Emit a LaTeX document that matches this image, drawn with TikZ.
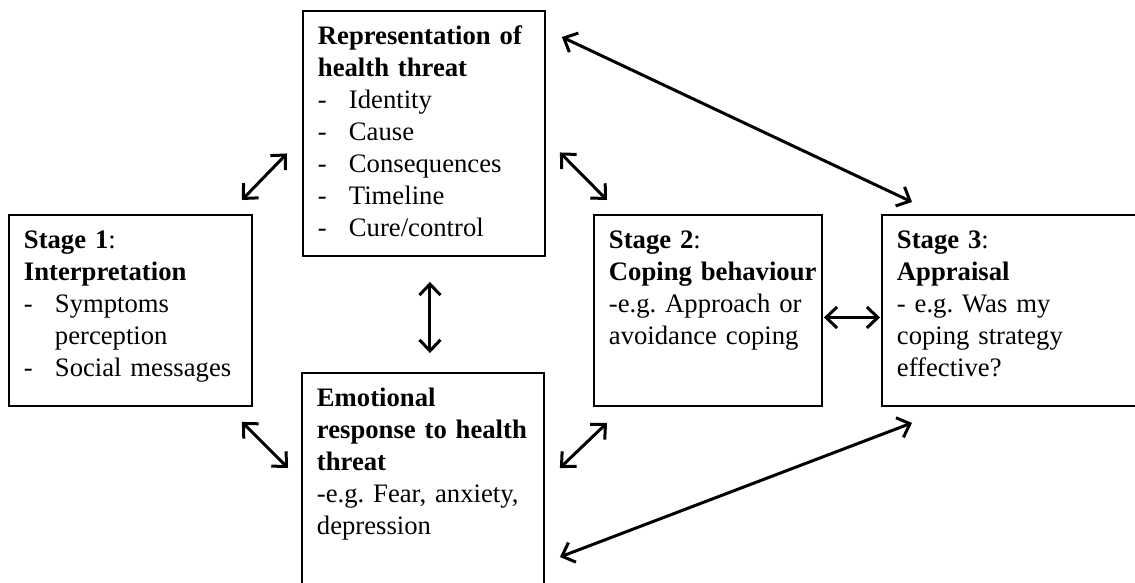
\documentclass[tikz,border=0pt]{standalone}
\usepackage{fontspec}
\setmainfont{Liberation Serif}
\usetikzlibrary{arrows.meta}

\newcommand{\dashitem}[1]{\makebox[31pt][l]{-}#1}
\newcommand{\boxfont}{\fontsize{26.67}{32}\selectfont\frenchspacing\hyphenpenalty=10000\relax}

\begin{document}
\begin{tikzpicture}[x=1pt,y=-1pt,
  box/.style={draw,line width=1.9pt,anchor=north west,align=left,
    inner xsep=15pt,inner ysep=0pt,text height=34pt,font=\boxfont},
  link/.style={line width=3pt,>={Straight Barb[length=11pt,width=21pt]},<->}]
  \useasboundingbox (0,0) rectangle (1135,582);
  % boxes
  \node[box,text width=212pt,text depth=211pt] (rep) at (302,10)
    {\textbf{Representation of}\\ \textbf{health threat}\\
     \dashitem{Identity}\\ \dashitem{Cause}\\ \dashitem{Consequences}\\
     \dashitem{Timeline}\\ \dashitem{Cure/control}};
  \node[box,text width=213pt,text depth=157pt] (s1) at (8,214)
    {\textbf{Stage 1}:\\ \textbf{Interpretation}\\
     \dashitem{Symptoms}\\ \hspace*{31pt}perception\\
     \mbox{\dashitem{Social messages}}};
  \node[box,text width=198pt,text depth=157pt] (s2) at (593,214)
    {\textbf{Stage 2}:\\ \mbox{\textbf{Coping behaviour}}\\
     \mbox{-e.g. Approach or}\\ avoidance coping};
  \node[box,text width=229pt,text depth=157pt] (s3) at (881,214)
    {\textbf{Stage 3}:\\ \textbf{Appraisal}\\
     - e.g. Was my\\ coping strategy\\ effective?};
  \node[box,text width=212pt,text depth=181pt] (emo) at (301,372)
    {\textbf{Emotional}\\ \mbox{\textbf{response to health}}\\ \textbf{threat}\\
     \mbox{-e.g. Fear, anxiety,}\\ depression};
  % links
  \draw[link] ([shift={(-11,-14)}]s1.north east) -- ([shift={(-15,20)}]rep.west);
  \draw[link] ([shift={(14,19)}]rep.east) -- ([shift={(14,-14)}]s2.north west);
  \draw[link] ([shift={(16,27)}]rep.north east) -- ([shift={(31,-12)}]s3.north west);
  \draw[link] ([shift={(1,7)}]s2.east) -- ([shift={(-1,7)}]s3.west);
  \draw[link] ([shift={(6,25)}]rep.south) -- ([shift={(7,-19)}]emo.north);
  \draw[link] ([shift={(-11,15)}]s1.south east) -- ([shift={(-13,96)}]emo.north west);
  \draw[link] ([shift={(15,96)}]emo.north east) -- ([shift={(14,16)}]s2.south west);
  \draw[link] ([shift={(15,185)}]emo.north east) -- ([shift={(31,16)}]s3.south west);
\end{tikzpicture}
\end{document}
